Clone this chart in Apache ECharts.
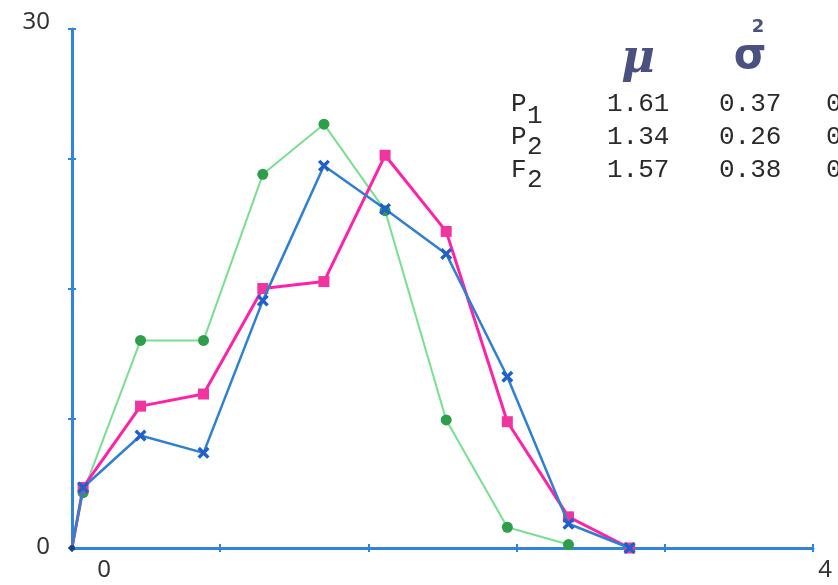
<!DOCTYPE html>
<html>
<head>
<meta charset="utf-8">
<script src="https://cdn.jsdelivr.net/npm/echarts@6/dist/echarts.min.js"></script>
<style>html,body{margin:0;padding:0;background:#fff}#c{width:838px;height:585px}</style>
</head>
<body>
<div id="c"></div>
<script>
// ---- data ----
const xValues   = [0, 0.06, 0.37, 0.71, 1.03, 1.36, 1.69, 2.02, 2.35, 2.68, 3.01];
const greenVals = [0, 3.2, 12.0, 12.0, 21.6, 24.5, 19.5, 7.4, 1.2, 0.2];
const pinkVals  = [0, 3.5, 8.2, 8.9, 15.0, 15.4, 22.7, 18.3, 7.3, 1.8, 0];
const blueVals  = [0, 3.5, 6.5, 5.5, 14.3, 22.1, 19.6, 17.0, 9.9, 1.4, 0];
const yTickLabels = [0, 30];
const xTickLabels = [0, 4];
const tableRows = [
  { name: 'P', sub: '1', mu: '1.61', s2: '0.37', c3: '0' },
  { name: 'P', sub: '2', mu: '1.34', s2: '0.26', c3: '0' },
  { name: 'F', sub: '2', mu: '1.57', s2: '0.38', c3: '0' }
];

function pairs(vals, originSymbol) {
  return vals.map((v, i) => {
    if (i === 0) return { value: [xValues[i], v], symbol: originSymbol ? 'circle' : 'none', symbolSize: 6, itemStyle: { color: '#1d3f8a' } };
    return [xValues[i], v];
  });
}

const chart = echarts.init(document.getElementById('c'), null, { renderer: 'canvas' });
const axisColor = '#2f86d8';
const xSym = 'path://M0,2 L2,0 L5,3 L8,0 L10,2 L7,5 L10,8 L8,10 L5,7 L2,10 L0,8 L3,5 Z';

const mono = 'Liberation Mono';
const textGraphics = [];
const rowY = [104, 137, 170];
const subShift = [12, 10, 10];
tableRows.forEach((r, i) => {
  const y = rowY[i];
  const st = { fill: '#2a2a2a', font: '26px "' + mono + '"', textVerticalAlign: 'middle' };
  textGraphics.push({ type: 'text', x: 511, y: y, style: Object.assign({ text: r.name }, st) });
  textGraphics.push({ type: 'text', x: 527, y: y + subShift[i], style: Object.assign({ text: r.sub }, st) });
  textGraphics.push({ type: 'text', x: 607, y: y, style: Object.assign({ text: r.mu }, st) });
  textGraphics.push({ type: 'text', x: 719, y: y, style: Object.assign({ text: r.s2 }, st) });
  textGraphics.push({ type: 'text', x: 826, y: y, style: Object.assign({ text: r.c3 }, st) });
});
textGraphics.push({ type: 'text', x: 638, y: 60, style: { text: '\u03bc', fill: '#4a5080', font: 'italic bold 46px "DejaVu Serif"', textAlign: 'center', textVerticalAlign: 'middle' } });
textGraphics.push({ type: 'text', x: 750, y: 57, style: { text: '\u03c3', fill: '#4a5080', font: 'bold 42px "DejaVu Sans"', textAlign: 'center', textVerticalAlign: 'middle' } });
textGraphics.push({ type: 'text', x: 758, y: 27, style: { text: '2', fill: '#4a5080', font: 'bold 18px "DejaVu Sans"', textAlign: 'center', textVerticalAlign: 'middle' } });

chart.setOption({
  backgroundColor: '#ffffff',
  animation: false,
  grid: { left: 72, right: 25, top: 29, bottom: 37, outerBoundsMode: 'none' },
  xAxis: [{
    type: 'value', min: 0, max: 4, interval: 0.8,
    axisLine: { lineStyle: { color: axisColor, width: 3 } },
    axisTick: { show: true, length: 4, lineStyle: { color: axisColor, width: 2 } },
    splitLine: { show: false },
    axisLabel: {
      margin: 10, showMaxLabel: true, showMinLabel: true,
      color: '#333', fontFamily: 'Noto Sans', fontSize: 24,
      formatter: function (v) {
        if (Math.abs(v - xTickLabels[0]) < 1e-6) return '{a|' + xTickLabels[0] + '}';
        if (Math.abs(v - xTickLabels[1]) < 1e-6) return '{b|' + xTickLabels[1] + '}';
        return '';
      },
      rich: {
        a: { color: '#333', fontFamily: 'Noto Sans', fontSize: 24, padding: [0, 0, 0, 64] },
        b: { color: '#333', fontFamily: 'Noto Sans', fontSize: 24, padding: [0, 0, 0, 24] }
      }
    }
  }, {
    type: 'value', min: 0, max: 4, interval: 0.8, position: 'bottom',
    axisLine: { show: false },
    axisTick: { show: true, inside: true, length: 4, lineStyle: { color: axisColor, width: 2 } },
    splitLine: { show: false }, axisLabel: { show: false }
  }],
  yAxis: [{
    type: 'value', min: 0, max: 30, interval: 7.5,
    axisLine: { show: true, lineStyle: { color: axisColor, width: 3 } },
    axisTick: { show: true, length: 4, lineStyle: { color: axisColor, width: 2 } },
    splitLine: { show: false },
    axisLabel: {
      margin: 22, showMaxLabel: true,
      formatter: function (v) {
        if (v === yTickLabels[1]) return '{t|' + v + '}';
        if (v === yTickLabels[0]) return '{z|' + v + '}';
        return '';
      },
      rich: {
        t: { color: '#333', fontFamily: 'Noto Sans', fontSize: 24, padding: [0, 0, 14, 0] },
        z: { color: '#333', fontFamily: 'Noto Sans', fontSize: 24, padding: [0, 0, 2, 0] }
      }
    }
  }, {
    type: 'value', min: 0, max: 30, interval: 7.5, position: 'left',
    axisLine: { show: false },
    axisTick: { show: true, inside: true, length: 4, lineStyle: { color: axisColor, width: 2 } },
    splitLine: { show: false }, axisLabel: { show: false }
  }],
  series: [
    {
      type: 'line', data: pairs(greenVals, false), symbol: 'circle', symbolSize: 11,
      lineStyle: { color: '#78e090', width: 2 },
      itemStyle: { color: '#2f9e4a' }, z: 2
    },
    {
      type: 'line', data: pairs(pinkVals, false), symbol: 'rect', symbolSize: 11,
      lineStyle: { color: '#ff22a8', width: 3 },
      itemStyle: { color: '#f0359f' }, z: 3
    },
    {
      type: 'line', data: pairs(blueVals, true), symbol: xSym, symbolSize: 12,
      lineStyle: { color: '#2f7fd2', width: 2.5 },
      itemStyle: { color: '#2060c8' }, z: 4
    }
  ],
  graphic: textGraphics
});
</script>
</body>
</html>
